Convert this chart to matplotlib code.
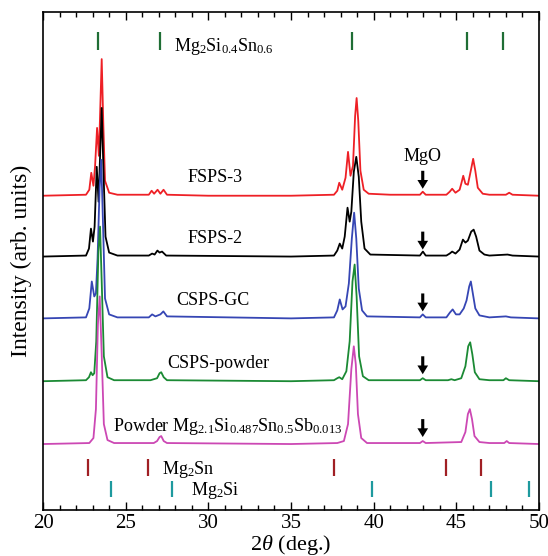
import matplotlib
matplotlib.use("Agg")
import matplotlib.pyplot as plt
from matplotlib.ticker import MultipleLocator

plt.rcParams["font.family"] = ["Liberation Serif", "DejaVu Serif"]
plt.rcParams["mathtext.fontset"] = "custom"
plt.rcParams["mathtext.rm"] = "Liberation Serif"
plt.rcParams["mathtext.it"] = "Liberation Serif:italic"

fsps3_x = [20.0, 22.6, 22.8, 22.92, 23.05, 23.15, 23.27, 23.38, 23.45, 23.55, 23.65, 23.75, 24.0, 24.5,
           26.4, 26.57, 26.72, 26.93, 27.1, 27.29, 27.5, 30.0, 35.0, 37.6, 37.8, 37.92, 38.1, 38.3,
           38.45, 38.6, 38.75, 38.88, 38.97, 39.07, 39.2, 39.4, 39.7, 41.0, 42.8, 42.97, 43.15, 44.4,
           44.6, 44.75, 44.95, 45.2, 45.3, 45.42, 45.55, 45.7, 45.9, 46.02, 46.15, 46.3, 46.6, 47.0,
           48.0, 48.2, 48.4, 50.0]
fsps3_y = [0, 1, 6, 23, 10, 30, 68, 40, 80, 137, 70, 15, 3, 1,
           1, 5, 2, 6, 2, 6, 1, 0, 0, 1, 5, 13, 6, 18,
           44, 20, 30, 80, 98, 75, 25, 6, 2, 1, 1, 4, 1, 1,
           4, 7, 3, 6, 12, 20, 12, 11, 27, 37, 25, 8, 2, 1,
           1, 3, 1, 0]

fsps2_x = [20.0, 22.6, 22.78, 22.9, 23.02, 23.12, 23.25, 23.36, 23.45, 23.55, 23.65, 23.78, 24.0, 24.5,
           26.4, 26.6, 26.75, 26.92, 27.05, 27.2, 27.45, 35.0, 37.6, 37.8, 37.95, 38.1, 38.25, 38.42,
           38.55, 38.65, 38.8, 38.95, 39.1, 39.25, 39.45, 39.8, 42.8, 42.98, 43.15, 44.4, 44.6, 44.75,
           44.95, 45.2, 45.4, 45.55, 45.7, 45.9, 46.05, 46.2, 46.4, 46.7, 47.0, 48.1, 48.4, 50.0]
fsps2_y = [0, 1, 8, 28, 15, 30, 90, 55, 100, 149, 90, 20, 4, 1,
           1, 3, 2, 6, 4, 5, 1, 0, 1, 6, 13, 8, 20, 49,
           35, 45, 85, 100, 80, 35, 8, 2, 1, 5, 1, 1, 3, 5,
           3, 7, 17, 14, 16, 25, 27, 20, 6, 2, 1, 2, 1, 0]

cspsgc_x = [20.0, 22.6, 22.8, 22.95, 23.1, 23.2, 23.3, 23.42, 23.52, 23.62, 23.75, 24.0, 24.5,
            26.4, 26.6, 26.8, 27.1, 27.28, 27.5, 35.0, 37.6, 37.8, 37.95, 38.12, 38.3, 38.5, 38.68,
            38.82, 38.95, 39.1, 39.3, 39.6, 42.8, 42.97, 43.15, 44.4, 44.62, 44.78, 44.98, 45.2,
            45.45, 45.62, 45.78, 45.88, 46.0, 46.15, 46.4, 47.0, 48.0, 48.3, 50.0]
cspsgc_y = [0, 1, 10, 37, 22, 25, 60, 130, 159, 100, 20, 4, 1,
            1, 4, 2, 4, 7, 2, 0, 1, 8, 19, 9, 12, 35, 80,
            106, 80, 30, 8, 2, 1, 4, 1, 1, 6, 9, 4, 4,
            10, 18, 32, 37, 25, 10, 3, 1, 2, 1, 0]

cspspow_x = [20.0, 22.6, 22.78, 22.9, 23.0, 23.1, 23.22, 23.35, 23.45, 23.55, 23.68, 23.9, 24.3,
             26.5, 26.7, 26.9, 27.05, 27.15, 27.3, 27.5, 35.0, 37.6, 37.8, 37.92, 38.1, 38.35, 38.55,
             38.72, 38.85, 38.97, 39.12, 39.35, 39.7, 42.8, 42.97, 43.15, 44.5, 44.7, 44.9, 45.3,
             45.55, 45.72, 45.84, 45.97, 46.12, 46.4, 47.0, 47.85, 48.0, 48.2, 50.0]
cspspow_y = [0, 1, 4, 9, 6, 8, 40, 130, 155, 100, 25, 4, 1,
             1, 2, 3, 8, 9, 4, 1, 0, 1, 3, 4, 2, 10, 40,
             100, 117, 85, 25, 5, 1, 1, 3, 1, 1, 2, 1, 3,
             15, 35, 39, 27, 9, 2, 1, 1, 3, 1, 0]

powder_x = [20.0, 22.8, 23.05, 23.2, 23.32, 23.43, 23.55, 23.68, 23.9, 24.3,
            26.7, 26.9, 27.05, 27.15, 27.3, 27.5, 35.0, 37.8, 38.2, 38.45, 38.65, 38.8, 38.92,
            39.05, 39.25, 39.6, 42.8, 42.97, 43.15, 45.3, 45.55, 45.7, 45.82, 45.95, 46.1, 46.4,
            47.0, 47.9, 48.05, 48.2, 50.0]
powder_y = [0, 1, 6, 35, 120, 148, 90, 20, 4, 1,
            1, 3, 7, 8, 3, 1, 0, 1, 3, 20, 75, 98, 80,
            30, 6, 1, 1, 3, 1, 2, 12, 30, 35, 25, 8, 2,
            1, 1, 3, 1, 0]

# Reference reflections (2theta, deg)
mg2si04sn06_pos = [23.31, 27.05, 38.67, 45.66, 47.83]
mg2sn_pos = [22.71, 26.33, 37.6, 44.4, 46.5]
mg2si_pos = [24.1, 27.83, 39.88, 47.1, 49.4]

mgo_pos = 42.97

traces = [
    (fsps3_x, fsps3_y, "#ee2026", 315, "FSPS-3", 28.73),
    (fsps2_x, fsps2_y, "black", 254, "FSPS-2", 28.73),
    (cspsgc_x, cspsgc_y, "#3646b4", 192, "CSPS-GC", 28.07),
    (cspspow_x, cspspow_y, "#1b8a34", 129, "CSPS-powder", 27.53),
    (powder_x, powder_y, "#cc48b4", 66,
     "Powder Mg$_{2.1}$Si$_{0.487}$Sn$_{0.5}$Sb$_{0.013}$", 24.22),
]

fig = plt.figure(figsize=(5.48, 5.56), dpi=100)
ax = fig.add_axes([0.0785, 0.083, 0.905, 0.895])

for xs, ys, col, base, lab, lx in traces:
    ax.plot(xs, [v + base for v in ys], color=col, linewidth=1.3)
    ax.text(lx, base + 18, lab, fontsize=13, va="center", ha="left")
    ax.annotate("", xy=(mgo_pos, base + 7), xytext=(mgo_pos, base + 25),
                arrowprops=dict(arrowstyle="simple,head_width=0.55,head_length=0.45,tail_width=0.16",
                                mutation_scale=14, color="black", lw=0, shrinkA=0, shrinkB=0))

ax.text(mgo_pos, 354, "MgO", fontsize=13, ha="center", va="center")

ax.vlines(mg2si04sn06_pos, 461, 479, color="#1f6e35", linewidth=1.6)
ax.text(27.95, 465, "Mg$_2$Si$_{0.4}$Sn$_{0.6}$", fontsize=13, va="center", ha="left")

ax.vlines(mg2sn_pos, 34, 51, color="#a01f24", linewidth=1.6)
ax.text(27.17, 40, "Mg$_2$Sn", fontsize=13, va="center", ha="left")

ax.vlines(mg2si_pos, 13, 29, color="#1e9a9e", linewidth=1.6)
ax.text(28.98, 19, "Mg$_2$Si", fontsize=13, va="center", ha="left")

ax.set_xlim(20, 50)
ax.set_ylim(0, 499)
ax.xaxis.set_major_locator(MultipleLocator(5))
ax.xaxis.set_minor_locator(MultipleLocator(1))
ax.tick_params(axis="x", which="both", direction="in", top=True, bottom=True, labelsize=15, pad=3)
ax.tick_params(axis="x", which="major", length=6, width=1)
ax.tick_params(axis="x", which="minor", length=3.5, width=1)
ax.set_yticks([])
for sp in ax.spines.values():
    sp.set_linewidth(1.2)

ax.set_xlabel(r"$\mathit{2\theta}$ (deg.)", fontsize=16, labelpad=0)
ax.set_ylabel("Intensity (arb. units)", fontsize=17, labelpad=8)

fig.savefig("out.png", dpi=100)
